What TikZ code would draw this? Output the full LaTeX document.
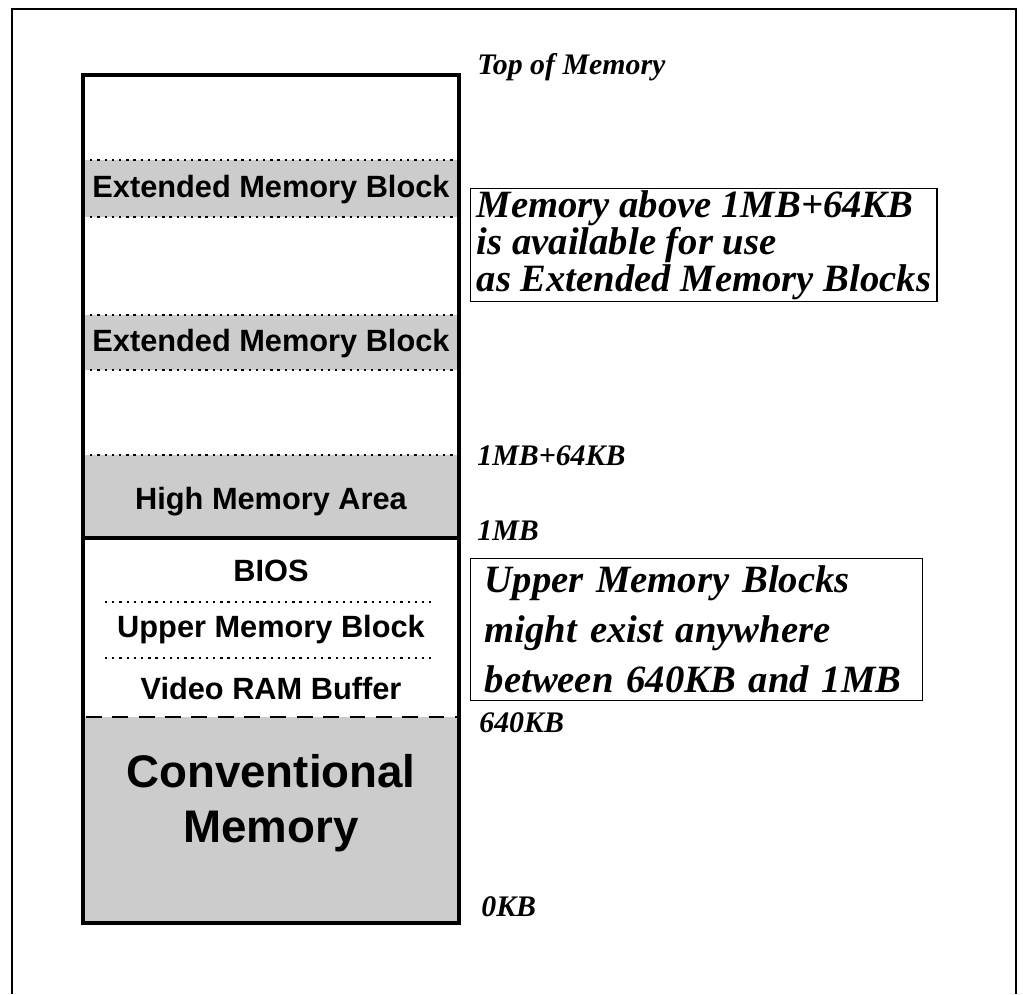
\documentclass[tikz,border=0pt]{standalone}
\usepackage{fontspec}
\setmainfont{Liberation Serif}
\newfontfamily\blockfont{Liberation Sans}

\tikzset{
  zone/.style={fill=black!20},
  sep/.style={line width=1.2pt, dash pattern=on 1.3pt off 2.8pt},
  blocklabel/.style={font=\blockfont\bfseries\fontsize{17.5}{19}\selectfont, inner sep=0pt},
  addr/.style={anchor=west, inner sep=0pt, font=\bfseries\itshape\fontsize{17}{19}\selectfont},
  note/.style={draw, line width=0.8pt, anchor=north west, align=left,
    font=\bfseries\itshape\fontsize{22}{19}\selectfont}
}

\begin{document}
\begin{tikzpicture}[x=0.02cm, y=-0.02cm]
  \useasboundingbox (0,0) rectangle (1023,994);

  % Cadre exterieur
  \draw[line width=1.1pt] (12,994) -- (12,9) -- (1016,9) -- (1016,994);

  % Zones grisees
  \fill[zone] (83,160) rectangle (459,217);
  \fill[zone] (83,315) rectangle (459,370);
  \fill[zone] (83,455) rectangle (459,538);
  \fill[zone] (83,717) rectangle (459,923);

  % Separations
  \foreach \y in {160,217,315,370,455}
    \draw[sep] (83,\y) -- (459,\y);
  \foreach \y in {602,658}
    \draw[sep] (105,\y) -- (432,\y);
  \draw[line width=1.2pt, dash pattern=on 9pt off 6pt] (86,717) -- (459,717);
  \draw[line width=2.3pt] (83,538) -- (459,538);

  % Colonne memoire
  \draw[line width=2.3pt] (83,75) rectangle (459,923);

  % Blocs
  \node[blocklabel] (emb1) at (271,190) {Extended Memory Block};
  \node[blocklabel] (emb2) at (271,344) {Extended Memory Block};
  \node[blocklabel] (hma) at (271,502) {High Memory Area};
  \node[blocklabel] (bios) at (271,571) {BIOS};
  \node[blocklabel] (umb) at (271,630) {Upper Memory Block};
  \node[blocklabel] (vram) at (271,688) {Video RAM Buffer};
  \node[blocklabel, align=center, font=\blockfont\bfseries\fontsize{26}{31}\selectfont] (conv) at (271,803) {Conventional\\Memory};

  % Adresses
  \node[addr] (top) at (477,67) {Top of Memory};
  \node[addr] (hmatop) at (477,456) {1MB+64KB};
  \node[addr] (onemb) at (477,531) {1MB};
  \node[addr] (k640) at (479,723) {640KB};
  \node[addr] (k0) at (481,907) {0KB};

  % Remarques
  \node[note, inner xsep=3.5pt, inner ysep=1pt, minimum height=2.14cm] (xmsnote) at (470,188)
    {Memory above 1MB+64KB\\is available for use\\as Extended Memory Blocks};
  \node[note, inner xsep=8pt, text width=8.48cm, minimum height=2.84cm,
    font=\bfseries\itshape\fontsize{22}{28.5}\selectfont] (umbnote) at (470,558)
    {Upper Memory Blocks\\might exist anywhere\\between 640KB and 1MB};
\end{tikzpicture}
\end{document}
